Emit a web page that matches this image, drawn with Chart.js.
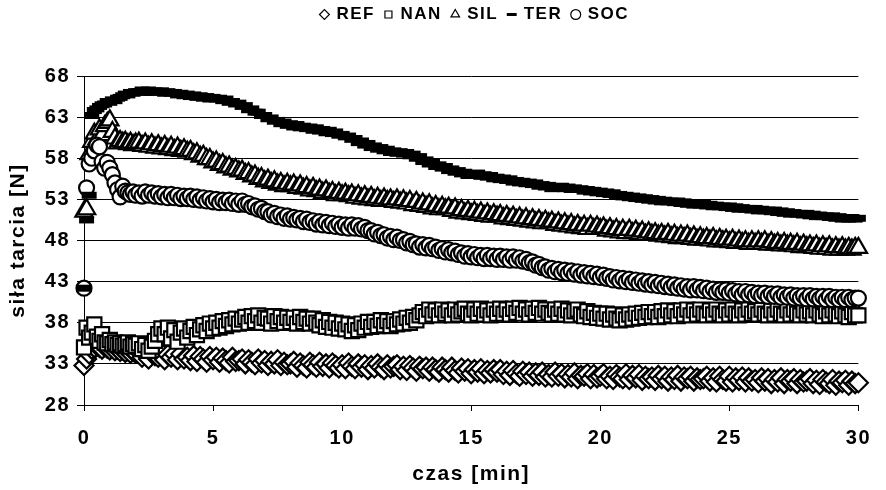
<!DOCTYPE html>
<html>
<head>
<meta charset="utf-8">
<script src="https://cdn.jsdelivr.net/npm/chart.js@4.4.1/dist/chart.umd.min.js"></script>
<style>
  html, body { margin: 0; padding: 0; background: #fff; }
</style>
</head>
<body>
<canvas id="friction-chart" width="886" height="490"></canvas>
<script>
// czas [min]
const time = [
  0, 0.1, 0.2, 0.3, 0.4, 0.5, 0.6, 0.7, 0.8, 0.9, 1, 1.1, 1.2, 1.3, 1.4, 1.5, 1.6, 1.7, 1.8, 1.9, 2,
  2.125, 2.25, 2.375, 2.5, 2.625, 2.75, 2.875, 3, 3.125, 3.25, 3.375, 3.5, 3.625, 3.75, 3.875, 4,
  4.125, 4.25, 4.375, 4.5, 4.625, 4.75, 4.875, 5, 5.125, 5.25, 5.375, 5.5, 5.625, 5.75, 5.875, 6,
  6.125, 6.25, 6.375, 6.5, 6.625, 6.75, 6.875, 7, 7.125, 7.25, 7.375, 7.5, 7.625, 7.75, 7.875, 8,
  8.125, 8.25, 8.375, 8.5, 8.625, 8.75, 8.875, 9, 9.125, 9.25, 9.375, 9.5, 9.625, 9.75, 9.875, 10,
  10.125, 10.25, 10.375, 10.5, 10.625, 10.75, 10.875, 11, 11.125, 11.25, 11.375, 11.5, 11.625, 11.75, 11.875, 12,
  12.125, 12.25, 12.375, 12.5, 12.625, 12.75, 12.875, 13, 13.125, 13.25, 13.375, 13.5, 13.625, 13.75, 13.875, 14,
  14.125, 14.25, 14.375, 14.5, 14.625, 14.75, 14.875, 15, 15.125, 15.25, 15.375, 15.5, 15.625, 15.75, 15.875, 16,
  16.125, 16.25, 16.375, 16.5, 16.625, 16.75, 16.875, 17, 17.125, 17.25, 17.375, 17.5, 17.625, 17.75, 17.875, 18,
  18.125, 18.25, 18.375, 18.5, 18.625, 18.75, 18.875, 19, 19.125, 19.25, 19.375, 19.5, 19.625, 19.75, 19.875, 20,
  20.125, 20.25, 20.375, 20.5, 20.625, 20.75, 20.875, 21, 21.125, 21.25, 21.375, 21.5, 21.625, 21.75, 21.875, 22,
  22.125, 22.25, 22.375, 22.5, 22.625, 22.75, 22.875, 23, 23.125, 23.25, 23.375, 23.5, 23.625, 23.75, 23.875, 24,
  24.125, 24.25, 24.375, 24.5, 24.625, 24.75, 24.875, 25, 25.125, 25.25, 25.375, 25.5, 25.625, 25.75, 25.875, 26,
  26.125, 26.25, 26.375, 26.5, 26.625, 26.75, 26.875, 27, 27.125, 27.25, 27.375, 27.5, 27.625, 27.75, 27.875, 28,
  28.125, 28.25, 28.375, 28.5, 28.625, 28.75, 28.875, 29, 29.125, 29.25, 29.375, 29.5, 29.625, 29.75, 29.875, 30
];

// siła tarcia [N]
const refValues = [
  32.8, 33.6, 34.2, 34.8, 35.0, 35.2, 35.0, 34.8, 35.1, 34.9, 34.7, 34.9, 34.6, 34.8, 34.5, 34.7, 34.4, 34.6, 34.3, 34.5, 34.3,
  34.5, 33.8, 34.2, 33.6, 34.3, 34.0, 33.8, 34.3, 33.5, 34.1, 33.8, 34.2, 33.5, 34.2, 33.6, 33.8,
  33.4, 34.0, 33.3, 33.9, 33.6, 33.2, 33.9, 33.5, 33.8, 33.2, 33.7, 33.4, 33.1, 33.8, 33.3, 33.4,
  33.6, 33.0, 33.5, 33.2, 32.9, 33.6, 33.1, 33.4, 32.8, 33.3, 33.0, 33.5, 32.8, 33.2, 32.9, 33.0,
  33.3, 32.6, 33.1, 32.8, 32.5, 33.2, 32.9, 32.6, 33.2, 32.7, 33.0, 32.5, 33.1, 32.8, 32.5, 32.9,
  32.4, 33.1, 32.7, 32.4, 33.0, 32.6, 32.9, 32.3, 32.8, 32.5, 33.0, 32.6, 32.3, 32.9, 32.5, 32.7,
  32.9, 32.3, 32.7, 32.2, 32.8, 32.5, 32.1, 32.7, 32.4, 32.6, 32.1, 32.6, 32.3, 32.0, 32.6, 32.3,
  32.0, 32.6, 32.2, 31.9, 32.5, 32.1, 32.4, 31.8, 32.3, 32.0, 32.4, 31.8, 32.2, 31.9, 32.3, 32.0,
  32.3, 31.7, 32.1, 31.6, 32.2, 31.8, 31.5, 32.1, 31.7, 32.0, 31.5, 31.9, 31.6, 32.0, 31.4, 31.7,
  31.4, 32.0, 31.5, 31.8, 31.3, 31.7, 31.4, 31.9, 31.2, 31.6, 31.5, 31.8, 31.2, 31.7, 31.3, 31.5,
  31.8, 31.2, 31.5, 31.1, 31.7, 31.4, 31.2, 31.8, 31.1, 31.6, 31.3, 31.7, 31.0, 31.5, 31.2, 31.4,
  31.0, 31.6, 31.2, 31.5, 30.9, 31.4, 31.1, 31.6, 30.9, 31.4, 31.2, 31.5, 30.9, 31.3, 31.1, 31.2,
  31.5, 30.9, 31.3, 30.8, 31.5, 31.1, 30.9, 31.5, 30.8, 31.3, 31.0, 31.4, 30.8, 31.3, 30.9, 31.1,
  30.7, 31.3, 30.9, 31.2, 30.6, 31.1, 30.8, 31.3, 30.6, 31.1, 30.9, 31.2, 30.6, 31.1, 30.8, 30.9,
  31.2, 30.6, 31.0, 30.5, 31.1, 30.8, 30.6, 31.1, 30.4, 30.9, 30.7, 31.0, 30.4, 30.9, 30.6, 30.7
];
const nanValues = [
  35.0, 37.4, 36.2, 36.8, 37.8, 36.3, 35.8, 36.6, 35.6, 35.5, 35.9, 35.4, 35.6, 35.3, 35.5, 35.2, 35.4, 35.6, 35.1, 35.4, 35.2,
  35.5, 34.8, 35.3, 34.6, 35.1, 35.8, 36.6, 37.3, 36.6, 37.4, 36.1, 37.1, 35.7, 36.8, 37.3, 36.2,
  37.0, 37.5, 36.5, 37.2, 37.7, 37.0, 37.9, 37.3, 38.0, 37.4, 38.2, 37.6, 38.3, 37.8, 38.5, 37.9,
  38.4, 38.7, 38.0, 38.8, 38.2, 38.9, 38.0, 38.6, 38.5, 37.9, 38.8, 38.2, 38.7, 38.0, 38.6, 38.1,
  38.6, 37.9, 38.7, 38.1, 38.5, 37.9, 38.5, 38.0, 37.7, 38.3, 37.5, 38.1, 37.4, 38.0, 37.3, 37.9,
  37.2, 37.8, 37.0, 37.7, 37.1, 37.9, 37.4, 38.1, 37.5, 38.1, 37.6, 38.3, 37.7, 38.2, 37.6, 38.2,
  37.8, 38.4, 37.9, 38.6, 38.0, 38.7, 38.3, 38.9, 39.3, 38.8, 39.6, 39.0, 39.5, 38.9, 39.6, 39.1,
  39.5, 38.9, 39.6, 39.0, 39.4, 39.7, 39.1, 38.9, 39.6, 39.1, 39.7, 39.0, 39.5, 38.9, 39.6, 39.1,
  39.7, 39.1, 39.6, 39.0, 39.7, 39.2, 39.8, 39.1, 39.6, 39.0, 39.7, 39.2, 39.8, 39.1, 39.6, 39.2,
  39.0, 39.6, 39.1, 39.7, 39.0, 39.5, 38.9, 39.4, 39.6, 39.0, 38.8, 39.4, 38.7, 39.2, 38.6, 39.1,
  38.5, 39.1, 38.4, 39.0, 38.5, 38.3, 38.9, 38.4, 39.0, 38.5, 39.1, 38.6, 39.2, 38.7, 39.3, 38.8,
  39.3, 38.7, 39.4, 38.8, 39.5, 38.9, 39.4, 38.8, 39.5, 39.0, 39.6, 38.9, 39.5, 39.0, 39.6, 39.1,
  38.9, 39.5, 39.0, 39.6, 39.1, 38.9, 39.5, 39.0, 39.6, 39.1, 38.9, 39.5, 39.0, 39.6, 39.1, 39.4,
  39.0, 39.6, 39.1, 38.9, 39.5, 39.0, 39.6, 39.1, 38.9, 39.5, 39.0, 39.6, 39.1, 38.9, 39.5, 39.0,
  39.4, 38.9, 39.5, 39.0, 38.8, 39.4, 38.9, 39.5, 39.0, 38.8, 39.4, 38.9, 38.7, 39.3, 38.9, 38.9
];
const silValues = [
  51.5, 51.8, 58.5, 60.0, 61.0, 60.3, 61.5, 60.8, 61.9, 62.3, 62.6, 61.2, 60.4, 59.8, 60.1, 59.9, 60.0, 59.7, 59.9, 59.6, 59.8,
  59.9, 59.5, 59.8, 59.4, 59.7, 59.3, 59.6, 59.2, 59.5, 59.1, 59.4, 59.0, 59.3, 58.9, 59.1, 58.8,
  58.9, 58.5, 58.6, 58.2, 58.3, 57.9, 57.9, 57.5, 57.6, 57.2, 57.3, 56.9, 57.0, 56.6, 56.7, 56.4,
  56.5, 56.1, 56.2, 55.8, 55.9, 55.5, 55.6, 55.2, 55.4, 55.0, 55.2, 54.8, 55.0, 54.6, 54.9, 54.6,
  54.8, 54.4, 54.7, 54.3, 54.5, 54.1, 54.4, 54.0, 54.2, 53.8, 54.1, 53.7, 53.9, 53.5, 53.8, 53.5,
  53.7, 53.4, 53.6, 53.2, 53.5, 53.1, 53.4, 53.0, 53.3, 52.9, 53.2, 52.8, 53.1, 52.8, 53.0, 52.7,
  53.0, 52.6, 52.9, 52.5, 52.8, 52.3, 52.7, 52.2, 52.5, 52.1, 52.4, 51.9, 52.2, 51.8, 52.1, 51.8,
  52.0, 51.6, 51.9, 51.4, 51.7, 51.3, 51.6, 51.2, 51.5, 51.1, 51.4, 51.0, 51.3, 50.9, 51.2, 50.9,
  51.1, 50.7, 51.0, 50.6, 50.9, 50.5, 50.8, 50.4, 50.7, 50.3, 50.6, 50.2, 50.5, 50.1, 50.4, 50.1,
  50.3, 49.9, 50.2, 49.8, 50.1, 49.7, 50.0, 49.6, 49.9, 49.5, 49.8, 49.4, 49.8, 49.4, 49.7, 49.4,
  49.6, 49.2, 49.5, 49.1, 49.4, 49.0, 49.3, 48.9, 49.3, 48.9, 49.2, 48.8, 49.1, 48.7, 49.0, 48.7,
  48.9, 48.6, 48.8, 48.5, 48.8, 48.4, 48.7, 48.3, 48.6, 48.3, 48.6, 48.2, 48.5, 48.1, 48.4, 48.1,
  48.3, 48.0, 48.3, 47.9, 48.2, 47.9, 48.1, 47.8, 48.1, 47.7, 48.0, 47.7, 47.9, 47.6, 47.9, 47.6,
  47.9, 47.6, 47.9, 47.5, 47.8, 47.5, 47.7, 47.4, 47.7, 47.4, 47.6, 47.3, 47.6, 47.2, 47.5, 47.2,
  47.4, 47.1, 47.4, 47.0, 47.3, 47.0, 47.3, 46.9, 47.2, 46.9, 47.2, 46.9, 47.1, 46.9, 47.1, 47.1
];
const terValues = [
  42.2, 50.5, 53.5, 63.2, 63.8, 64.0, 64.3, 64.5, 64.6, 64.9, 64.8, 65.1, 65.0, 65.3, 65.4, 65.6, 65.8, 65.7, 66.0, 65.9, 66.1,
  66.1, 66.3, 66.0, 66.3, 66.0, 66.2, 66.1, 66.2, 65.9, 66.1, 65.9, 66.0, 65.7, 65.9, 65.6, 65.8,
  65.5, 65.7, 65.4, 65.6, 65.3, 65.5, 65.2, 65.4, 65.2, 65.3, 65.0, 65.2, 64.8, 64.9, 64.6, 64.7,
  64.3, 64.4, 63.9, 64.0, 63.6, 63.6, 63.2, 63.2, 62.8, 62.9, 62.5, 62.6, 62.2, 62.4, 62.0, 62.2,
  61.8, 62.1, 61.7, 61.9, 61.6, 61.8, 61.4, 61.7, 61.3, 61.5, 61.1, 61.4, 61.0, 61.2, 60.8, 60.9,
  60.6, 60.7, 60.3, 60.4, 59.9, 60.1, 59.6, 59.8, 59.3, 59.5, 59.1, 59.3, 58.9, 59.1, 58.7, 58.9,
  58.6, 58.8, 58.5, 58.7, 58.3, 58.5, 58.0, 58.2, 57.6, 57.8, 57.3, 57.6, 57.0, 57.2, 56.8, 57.0,
  56.5, 56.7, 56.3, 56.5, 56.1, 56.3, 55.9, 56.1, 56.0, 56.2, 55.8, 56.0, 55.7, 55.9, 55.5, 55.7,
  55.4, 55.6, 55.3, 55.5, 55.1, 55.3, 55.0, 55.2, 54.9, 55.1, 54.8, 55.0, 54.6, 54.8, 54.5, 54.7,
  54.3, 54.5, 54.4, 54.6, 54.3, 54.5, 54.2, 54.4, 54.2, 54.3, 54.0, 54.2, 53.9, 54.1, 53.8, 54.0,
  53.7, 53.9, 53.6, 53.8, 53.4, 53.6, 53.3, 53.5, 53.2, 53.4, 53.1, 53.3, 53.0, 53.2, 52.9, 53.1,
  52.8, 53.0, 52.7, 52.9, 52.7, 52.8, 52.6, 52.8, 52.5, 52.7, 52.4, 52.6, 52.3, 52.5, 52.3, 52.5,
  52.2, 52.4, 52.1, 52.3, 52.1, 52.2, 52.0, 52.2, 51.9, 52.1, 51.8, 52.0, 51.8, 51.9, 51.7, 51.9,
  51.6, 51.8, 51.6, 51.7, 51.5, 51.7, 51.4, 51.6, 51.3, 51.5, 51.2, 51.4, 51.2, 51.3, 51.1, 51.3,
  51.0, 51.2, 50.9, 51.1, 50.9, 51.0, 50.8, 51.0, 50.7, 50.9, 50.6, 50.8, 50.6, 50.8, 50.6, 50.7
];
const socValues = [
  42.2, 54.4, 57.3, 58.0, 58.9, 59.6, 59.4, 57.6, 56.8, 57.5, 56.8, 56.0, 55.0, 54.2, 53.3, 54.6, 54.0, 53.8, 53.6, 53.9, 53.5,
  53.8, 53.4, 53.9, 53.5, 53.8, 53.4, 53.7, 53.3, 53.6, 53.2, 53.6, 53.2, 53.5, 53.1, 53.4, 53.1,
  53.4, 53.0, 53.3, 52.9, 53.2, 52.8, 53.1, 52.7, 53.0, 52.6, 52.9, 52.6, 52.9, 52.5, 52.8, 52.4,
  52.8, 52.4, 52.5, 52.1, 52.2, 51.8, 51.9, 51.5, 51.5, 51.1, 51.3, 50.9, 51.1, 50.7, 51.0, 50.6,
  50.8, 50.5, 50.7, 50.3, 50.6, 50.2, 50.4, 50.0, 50.3, 49.9, 50.2, 49.8, 50.1, 49.7, 50.0, 49.6,
  49.9, 49.5, 49.9, 49.5, 49.8, 49.4, 49.6, 49.2, 49.2, 48.8, 49.0, 48.6, 48.7, 48.3, 48.5, 48.1,
  48.4, 48.0, 48.1, 47.7, 47.9, 47.5, 47.6, 47.2, 47.5, 47.1, 47.4, 47.0, 47.2, 46.8, 47.0, 46.6,
  46.9, 46.5, 46.7, 46.3, 46.5, 46.1, 46.4, 46.0, 46.3, 45.9, 46.2, 45.8, 46.2, 45.8, 46.1, 45.7,
  46.1, 45.7, 46.0, 45.6, 46.0, 45.6, 45.9, 45.5, 45.7, 45.3, 45.4, 45.0, 45.1, 44.7, 44.8, 44.4,
  44.6, 44.2, 44.5, 44.1, 44.4, 44.0, 44.3, 43.9, 44.2, 43.8, 44.1, 43.7, 44.0, 43.6, 43.9, 43.5,
  43.8, 43.4, 43.6, 43.2, 43.5, 43.1, 43.4, 43.0, 43.3, 42.9, 43.2, 42.8, 43.1, 42.7, 43.0, 42.6,
  42.9, 42.5, 42.8, 42.4, 42.7, 42.3, 42.6, 42.2, 42.5, 42.1, 42.4, 42.0, 42.4, 42.0, 42.3, 41.9,
  42.2, 41.8, 42.1, 41.7, 42.0, 41.7, 42.0, 41.6, 41.9, 41.5, 41.8, 41.4, 41.8, 41.4, 41.7, 41.3,
  41.6, 41.3, 41.6, 41.2, 41.5, 41.2, 41.5, 41.1, 41.4, 41.1, 41.4, 41.0, 41.3, 41.0, 41.3, 40.9,
  41.3, 40.9, 41.2, 40.9, 41.2, 40.8, 41.2, 40.8, 41.1, 40.8, 41.1, 40.8, 41.1, 40.8, 41.0, 41.0
];

const yTicks = [28, 33, 38, 43, 48, 53, 58, 63, 68];
const xTicks = [0, 5, 10, 15, 20, 25, 30];

const FONT = "'Liberation Sans', Arial, sans-serif";
const SPACING = '1.5px';

function makeSeries(label, values, pointStyle, radius, borderWidth, order) {
    return {
        label: label,
        data: time.map((t, i) => ({ x: t, y: values[i] })),
        showLine: false,
        pointStyle: pointStyle,
        pointRadius: radius,
        pointHoverRadius: radius,
        pointBackgroundColor: '#ffffff',
        pointBorderColor: '#000000',
        pointBorderWidth: borderWidth,
        backgroundColor: '#ffffff',
        borderColor: '#000000',
        borderWidth: borderWidth,
        clip: false,
        order: order
    };
}

// legend sits higher than chart.js would put it and a bit to the right
const layoutTweak = {
    id: 'layoutTweak',
    beforeInit(chart) {
        const legend = chart.legend;
        const fit = legend.fit.bind(legend);
        legend.fit = function () {
            fit();
            this.height = 76;
        };
    },
    beforeLayout(chart) {
        chart.ctx.letterSpacing = SPACING;
    },
    afterLayout(chart) {
        chart.legend.left += 40;
        chart.legend.right += 40;
        chart.legend.top -= 4;
        chart.legend.bottom -= 4;
    },
    beforeDraw(chart) {
        chart.ctx.letterSpacing = SPACING;
    }
};

const ctx = document.getElementById('friction-chart').getContext('2d');

new Chart(ctx, {
    type: 'scatter',
    data: {
        datasets: [
            makeSeries('REF', refValues, 'rectRot', 9.5, 2.2, 5),
            makeSeries('NAN', nanValues, 'rect', 10, 2.2, 4),
            makeSeries('SIL', silValues, 'triangle', 10, 2.2, 3),
            makeSeries('TER', terValues, 'line', 7.5, 7, 1),
            makeSeries('SOC', socValues, 'circle', 7.5, 2.2, 2)
        ]
    },
    options: {
        responsive: false,
        animation: false,
        devicePixelRatio: 1,
        layout: { padding: { left: 0, right: 16, top: 0, bottom: 0 } },
        plugins: {
            legend: {
                position: 'top',
                labels: {
                    usePointStyle: true,
                    boxWidth: 7,
                    boxHeight: 7,
                    padding: 10,
                    color: '#000',
                    font: { family: FONT, size: 17, weight: 'bold' },
                    generateLabels(chart) {
                        const items = Chart.defaults.plugins.legend.labels.generateLabels(chart);
                        items.forEach(item => {
                            item.lineWidth = item.pointStyle === 'line' ? 3 : 1.2;
                        });
                        return items.sort((a, b) => a.datasetIndex - b.datasetIndex);
                    }
                }
            },
            tooltip: { enabled: false }
        },
        scales: {
            x: {
                type: 'linear',
                min: 0,
                max: 30,
                afterBuildTicks: scale => { scale.ticks = xTicks.map(v => ({ value: v })); },
                afterFit: scale => { scale.height = 85; },
                grid: { drawOnChartArea: false, drawTicks: true, tickLength: 6, color: '#000' },
                border: { color: '#000', width: 1 },
                ticks: { color: '#000', padding: 15, maxRotation: 0, font: { family: FONT, size: 20, weight: 'bold' } },
                title: {
                    display: true,
                    text: 'czas [min]',
                    color: '#000',
                    padding: { top: 0, bottom: 3 },
                    font: { family: FONT, size: 21, weight: 'bold' }
                }
            },
            y: {
                type: 'linear',
                min: 28,
                max: 68,
                afterBuildTicks: scale => { scale.ticks = yTicks.map(v => ({ value: v })); },
                afterFit: scale => { scale.width = 84; },
                grid: { color: '#000', lineWidth: 1, tickLength: 7 },
                border: { color: '#000', width: 1 },
                ticks: { color: '#000', padding: 7, font: { family: FONT, size: 20, weight: 'bold' } },
                title: {
                    display: true,
                    text: 'siła tarcia [N]',
                    color: '#000',
                    padding: { top: 6, bottom: 0 },
                    font: { family: FONT, size: 21, weight: 'bold' }
                }
            }
        }
    },
    plugins: [layoutTweak]
});
</script>
</body>
</html>
